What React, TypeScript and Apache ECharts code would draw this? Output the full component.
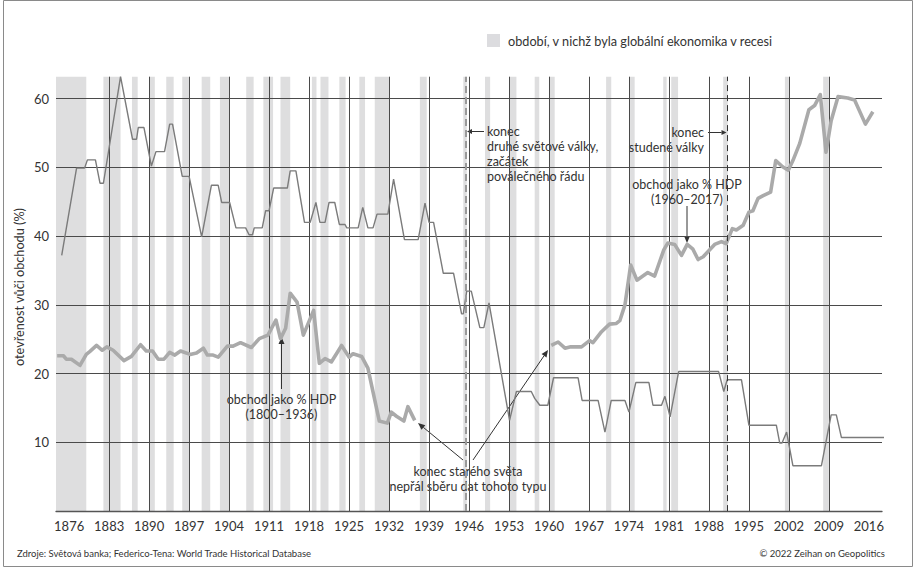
import React, { useEffect, useRef } from 'react';
import * as echarts from 'echarts';

// ---------- data ----------
const xTickYears = [1876, 1883, 1890, 1897, 1904, 1911, 1918, 1925, 1932, 1939, 1946, 1953, 1960, 1967, 1974, 1981, 1988, 1995, 2002, 2009, 2016];
const yTickValues = [10, 20, 30, 40, 50, 60];

// periods of global recession [start, end]
const recessions: [number, number][] = [
  [1873.7, 1879], [1882, 1885], [1887, 1888], [1890, 1891], [1893, 1894.3], [1895.8, 1897],
  [1899.2, 1900.7], [1902.4, 1904.1], [1907, 1908.3], [1910, 1911.7], [1913, 1914.7],
  [1918.5, 1919.3], [1920, 1921.4], [1923.3, 1924.4], [1926.8, 1927.8], [1929.5, 1932],
  [1937.4, 1938.6], [1945, 1945.6], [1948.8, 1949.7], [1953.1, 1954.3], [1957.5, 1958.3],
  [1960, 1961], [1970, 1970.9], [1974.2, 1975], [1980, 1980.6], [1981.4, 1982.6],
  [1990.5, 1991.3], [2001.3, 2002], [2008, 2009],
];

// thin line (openness index)
const openness: [number, number][] = [
  [1874.7, 37.2], [1877.3, 49.9], [1878.7, 49.9], [1879.2, 51.1], [1880.6, 51.1], [1881.4, 47.7], [1882, 47.7],
  [1885, 63.2], [1887.1, 54.1], [1887.8, 54.1], [1888.1, 55.8], [1889.1, 55.8], [1890.4, 50.2], [1891.2, 52.3],
  [1892.7, 52.3], [1893.6, 56.3], [1894.1, 56.3], [1895.8, 48.7], [1897, 48.7], [1899.2, 39.9], [1900.9, 47.4],
  [1902.1, 47.4], [1902.7, 44.9], [1904.1, 44.9], [1905.2, 41.2], [1906.9, 41.2], [1907.5, 40.2], [1908.1, 40.2],
  [1908.4, 41.2], [1909.8, 41.2], [1910.4, 43.7], [1911, 43.7], [1911.8, 47.0], [1914.2, 47.0], [1914.7, 49.5],
  [1915.7, 49.5], [1917.2, 42.0], [1918.2, 42.0], [1919.2, 44.9], [1919.9, 42.0], [1920.8, 42.0], [1921.5, 44.9],
  [1922.5, 44.9], [1923.3, 41.7], [1924.3, 41.7], [1924.6, 41.2], [1926.6, 41.2], [1927.4, 44.2], [1928.3, 41.2],
  [1929.2, 41.2], [1929.9, 43.2], [1931.8, 43.2], [1932.8, 48.3], [1934.7, 39.5], [1937.1, 39.5], [1938.3, 44.8],
  [1939, 42.0], [1939.8, 42.0], [1941.5, 34.6], [1943.3, 34.6], [1944.7, 28.7], [1945, 28.7], [1945.6, 32.0],
  [1946.4, 32.0], [1947.9, 26.7], [1948.6, 26.7], [1949.5, 30.3], [1953.1, 13.2], [1954.3, 17.4], [1956.9, 17.4],
  [1957.5, 16.4], [1958.4, 15.4], [1959.8, 15.4], [1960.8, 19.4], [1965.1, 19.4], [1965.8, 16.1], [1968.6, 16.1],
  [1969.8, 11.5], [1970.9, 16.1], [1973.3, 16.1], [1974, 14.4], [1975.2, 18.7], [1977.5, 18.7], [1978.2, 15.4],
  [1979.7, 15.4], [1980.3, 16.7], [1981.2, 13.7], [1982.7, 20.3], [1989.7, 20.3], [1990.6, 17.4], [1991.2, 19.1],
  [1993.7, 19.1], [1995, 12.5], [1999.8, 12.5], [2000.4, 9.9], [2000.8, 9.9], [2001.6, 11.5], [2002.7, 6.6],
  [2007.7, 6.6], [2009.4, 14.0], [2010.3, 14.0], [2011.2, 10.7], [2018.9, 10.7],
];

// thick line: trade as % of GDP (1800–1936)
const tradeGdpEarly: [number, number][] = [
  [1873.9, 22.6], [1875, 22.6], [1875.5, 22.1], [1876.4, 22.1], [1877.9, 21.2], [1879, 22.8], [1879.6, 23.2],
  [1880.8, 24.1], [1881.8, 23.4], [1882.6, 23.9], [1883.7, 23.4], [1885.6, 21.9], [1886.9, 22.5], [1888.5, 24.2],
  [1889.5, 23.3], [1890.6, 23.3], [1891.6, 22.1], [1892.6, 22.1], [1893.6, 23.1], [1894.5, 22.7], [1895.5, 23.3],
  [1897.2, 22.8], [1898.3, 23.0], [1899.5, 23.7], [1900.2, 22.7], [1901.2, 22.7], [1902.1, 22.4], [1903.7, 24.0],
  [1904.7, 24.0], [1906, 24.5], [1907.9, 23.8], [1909.3, 25.1], [1910.8, 25.6], [1912.2, 27.8], [1913, 25.1],
  [1913.9, 26.6], [1914.7, 31.7], [1915.9, 30.4], [1917, 25.6], [1918.8, 29.2], [1919.8, 21.5], [1920.8, 22.2],
  [1921.9, 21.7], [1923.7, 24.1], [1925, 22.4], [1925.7, 22.9], [1927.2, 22.5], [1928.3, 20.8], [1930.3, 13.1],
  [1931.7, 12.8], [1932.4, 14.4], [1933.3, 13.8], [1934.6, 13.1], [1935.3, 15.2], [1936.5, 13.2],
];

// thick line: trade as % of GDP (1960–2017)
const tradeGdpLate: [number, number][] = [
  [1960.4, 24.1], [1961.6, 24.6], [1962.8, 23.7], [1963.8, 23.9], [1965.7, 23.9], [1967.1, 24.8], [1967.7, 24.5],
  [1969.2, 26.1], [1970.6, 27.2], [1971.8, 27.3], [1972.4, 27.7], [1973.3, 30.0], [1974.3, 35.8], [1975.4, 33.6],
  [1977.3, 34.7], [1978.5, 34.2], [1980.1, 38.0], [1980.8, 39.0], [1982, 38.8], [1983.2, 37.2], [1984.2, 38.8],
  [1985.2, 38.1], [1986.1, 36.6], [1987, 37.0], [1989, 38.8], [1990.2, 39.2], [1991, 38.9], [1992.1, 41.1],
  [1992.8, 40.9], [1994, 41.6], [1995, 43.5], [1995.7, 43.7], [1996.6, 45.5], [1997.5, 45.9], [1998.8, 46.4],
  [1999.7, 51.0], [2000.9, 50.1], [2001.9, 49.6], [2002.7, 51.0], [2003.9, 53.5], [2005.5, 58.4], [2006.5, 59.0],
  [2007.5, 60.6], [2008.5, 52.2], [2009.4, 56.8], [2010.6, 60.3], [2012.3, 60.1], [2013.5, 59.8], [2015.4, 56.3],
  [2016.7, 58.1],
];

const endOfWW2 = 1945.4;
const endOfColdWar = 1991.2;

// ---------- texts ----------
const FONT = 'Lato, "Open Sans", sans-serif';
const legendText = 'období, v nichž byla globální ekonomika v recesi';
const yAxisTitle = 'otevřenost vůči obchodu (%)';
const sourceText = 'Zdroje: Světová banka; Federico-Tena: World Trade Historical Database';
const copyrightText = '© 2022 Zeihan on Geopolitics';

function arrow(x1: number, y1: number, x2: number, y2: number, len = 7, half = 3) {
  const ang = Math.atan2(y2 - y1, x2 - x1);
  const bx = x2 - len * Math.cos(ang);
  const by = y2 - len * Math.sin(ang);
  const px = -Math.sin(ang) * half;
  const py = Math.cos(ang) * half;
  return [
    { type: 'line', silent: true, shape: { x1, y1, x2: bx, y2: by }, style: { stroke: '#333', lineWidth: 1 } },
    { type: 'polygon', silent: true, shape: { points: [[x2, y2], [bx + px, by + py], [bx - px, by - py]] }, style: { fill: '#333' } },
  ];
}

function txt(x: number, y: number, text: string, opts: any = {}) {
  return {
    type: 'text', silent: true, x, y,
    style: {
      text, fontFamily: FONT, fontSize: 12.5, fill: '#333', lineHeight: 15,
      align: 'left', verticalAlign: 'middle', ...opts,
    },
  };
}

export default function App() {
  const ref = useRef<HTMLDivElement>(null);

  useEffect(() => {
    document.body.style.margin = '0';
    if (!ref.current) return;
    const chart = echarts.init(ref.current, undefined, { renderer: 'svg' });

    const graphics: any[] = [
      { type: 'rect', silent: true, shape: { x: 3.5, y: 0.5, width: 909, height: 566 }, style: { fill: 'none', stroke: '#8a8a8a', lineWidth: 1 } },
      { type: 'rect', silent: true, shape: { x: 487, y: 34, width: 13, height: 13 }, style: { fill: '#dcdcdf' } },
      txt(508, 41, legendText, { fontSize: 12.7 }),
      { type: 'text', silent: true, x: 19, y: 287, rotation: Math.PI / 2, style: { text: yAxisTitle, fontFamily: FONT, fontSize: 12.7, fill: '#333', align: 'center', verticalAlign: 'middle' } },
      txt(17, 553, sourceText, { fontSize: 9.5 }),
      txt(885, 553, copyrightText, { fontSize: 9.5, align: 'right' }),
      // WWII
      txt(487, 124, 'konec\ndruhé světové války,\nzačátek\npoválečného řádu', { verticalAlign: 'top' }),
      ...arrow(484, 131.5, 467, 131.5, 5, 2.5),
      // Cold war
      txt(704, 125, 'konec\nstudené války', { verticalAlign: 'top', align: 'right' }),
      ...arrow(708, 132.5, 726.5, 132.5, 5, 2.5),
      // trade 1960-2017
      txt(687, 176.5, 'obchod jako % HDP\n(1960–2017)', { verticalAlign: 'top', align: 'center' }),
      ...arrow(687, 206, 687, 243),
      // trade 1800-1936
      txt(281.5, 391.5, 'obchod jako % HDP\n(1800–1936)', { verticalAlign: 'top', align: 'center' }),
      ...arrow(281.5, 389, 281.5, 337),
      // old world
      txt(468, 463.5, 'konec starého světa\nnepřál sběru dat tohoto typu', { verticalAlign: 'top', align: 'center' }),
      ...arrow(463, 460, 418, 423),
      ...arrow(473, 460, 548, 350),
    ];

    const option: any = {
      animation: false,
      textStyle: { fontFamily: FONT },
      grid: { left: 56, right: 33, top: 76.7, bottom: 55.9, containLabel: false },
      xAxis: {
        type: 'value', min: 1873.7, max: 2018.3,
        axisLine: { show: true, onZero: false, lineStyle: { color: '#555', width: 1.3 } },
        axisTick: { show: false, customValues: xTickYears },
        axisLabel: { customValues: xTickYears, formatter: (v: number) => String(v), color: '#333', fontSize: 13, fontFamily: FONT, margin: 8 },
        splitLine: { show: true, showMinLine: false, showMaxLine: false, lineStyle: { color: '#4a4a4a', width: 1 } },
      },
      yAxis: {
        type: 'value', min: 0, max: 63.2, interval: 10,
        axisLine: { show: false }, axisTick: { show: false },
        axisLabel: { customValues: yTickValues, formatter: (v: number) => String(v), color: '#333', fontSize: 13, fontFamily: FONT, margin: 7 },
        splitLine: { show: true, showMinLine: false, showMaxLine: false, lineStyle: { color: '#4a4a4a', width: 1 } },
      },
      series: [
        {
          type: 'line', data: [], silent: true, z: 1,
          markArea: {
            silent: true, z: -1,
            itemStyle: { color: '#dededf' },
            data: recessions.map(([a, b]) => [{ xAxis: a }, { xAxis: b }]),
          },
        },
        {
          type: 'line', data: [], silent: true, z: 6,
          markLine: {
            silent: true, symbol: ['none', 'none'], label: { show: false },
            data: [
              { xAxis: endOfWW2, lineStyle: { color: '#9a9a9a', width: 2, type: [7, 4] } },
              { xAxis: endOfColdWar, lineStyle: { color: '#333', width: 1, type: [6, 4] } },
            ],
          },
        },
        {
          type: 'line', data: openness, symbol: 'none', silent: true, clip: false, z: 3,
          lineStyle: { color: '#7b7b7b', width: 1.4 },
        },
        {
          type: 'line', data: tradeGdpEarly, symbol: 'none', silent: true, z: 4,
          lineStyle: { color: '#aaaaaa', width: 3.6, join: 'round' },
        },
        {
          type: 'line', data: tradeGdpLate, symbol: 'none', silent: true, z: 4,
          lineStyle: { color: '#aaaaaa', width: 3.6, join: 'round' },
        },
      ],
      graphic: graphics,
    };

    chart.setOption(option);
    return () => chart.dispose();
  }, []);

  return <div ref={ref} style={{ width: 915, height: 567 }} />;
}
